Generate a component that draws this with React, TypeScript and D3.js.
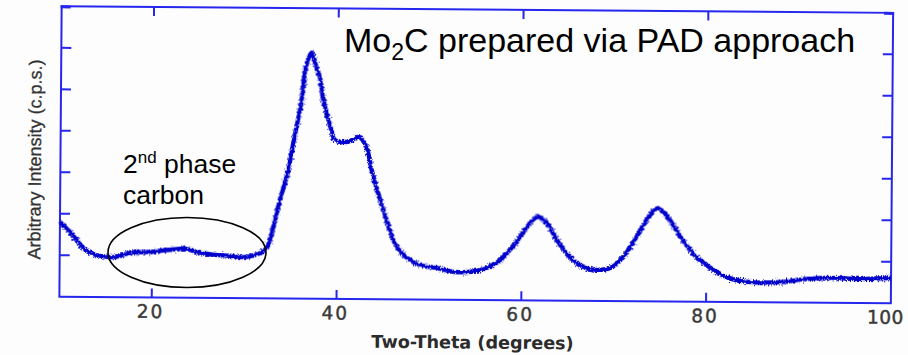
import React from 'react';
import * as d3 from 'd3';

// XRD scan of Mo2C (PAD route): 2θ in degrees vs. intensity (c.p.s.)
const twoTheta = [
  10.0, 11.1, 12.8, 14.4, 16.0, 17.6, 19.8, 21.9, 23.6, 25.2, 26.8, 28.4, 30.0, 31.7,
  32.4, 33.1, 33.8, 34.6, 35.2, 36.0, 36.5, 37.1, 37.6, 38.0, 38.4, 38.8, 39.2, 39.7,
  41.1, 42.3, 43.0, 43.3, 43.6, 43.9, 44.3, 45.0, 45.7, 46.5, 47.6, 49.0, 50.8, 53.0,
  55.5, 57.3, 58.7, 59.8, 60.9, 61.7, 62.7, 63.8, 65.2, 66.6, 68.1, 69.8, 71.3, 72.4,
  73.5, 74.7, 76.0, 77.4, 78.9, 80.3, 82.2, 84.3, 86.1, 88.2, 90.8, 93.6, 96.5, 100.0,
];
const intensity = [
  180, 156, 113, 99, 97, 107, 110, 115, 118, 108, 104, 102, 99, 109,
  122, 172, 238, 303, 376, 470, 559, 593, 559, 535, 480, 444, 415, 383,
  379, 391, 372, 353, 319, 295, 264, 216, 167, 126, 100, 83, 77, 67,
  72, 90, 121, 153, 187, 202, 187, 146, 105, 82, 75, 82, 116, 155,
  196, 225, 197, 149, 108, 84, 60, 49, 47, 49, 57, 60, 58, 61,
];
const xTickValues = [20, 40, 60, 80, 100];
const xInnerTicks = [20, 40, 60, 80];
const yTickValues = [100, 200, 300, 400, 500, 600];

const xTitle = 'Two-Theta (degrees)';
const yTitle = 'Arbitrary Intensity (c.p.s.)';

const FRAME = '#2626ee';
const TRACE = '#0303cc';

export default function App() {
  const width = 908;
  const height = 355;

  const x = d3.scaleLinear().domain([10, 100]).range([60.5, 892]);
  const y = d3.scaleLinear().domain([0, 700]).range([300, 9.6]);

  const [x0, x1] = x.range();
  const [yb, yt] = y.range();

  const path = d3
    .line<number>()
    .x((_, i) => x(twoTheta[i]))
    .y((d) => y(d))
    .curve(d3.curveCatmullRom.alpha(0.5))(intensity) as string;

  const tickLen = 10;
  const lastTick = xTickValues[xTickValues.length - 1];

  return (
    <svg
      width={width}
      height={height}
      viewBox={`0 0 ${width} ${height}`}
      style={{ position: 'absolute', left: 0, top: 0, background: '#fdfdfd' }}
    >
      <defs>
        <filter id="grain" filterUnits="userSpaceOnUse" x={0} y={0} width={width} height={height}>
          <feTurbulence type="fractalNoise" baseFrequency="1.0 0.4" numOctaves={2} seed={7} result="noise" />
          <feDisplacementMap in="SourceGraphic" in2="noise" scale={7} xChannelSelector="R" yChannelSelector="G" />
        </filter>
      </defs>

      {/* instrument plot, slightly tilted as scanned */}
      <g transform="rotate(0.45 476 155)">
        {/* frame */}
        <rect x={x0} y={yt} width={x1 - x0} height={yb - yt} fill="none" stroke={FRAME} strokeWidth={2} />

        {/* bottom and top ticks */}
        {xInnerTicks.map((t) => (
          <g key={`xt${t}`}>
            <line x1={x(t)} x2={x(t)} y1={yb} y2={yb - 9} stroke={FRAME} strokeWidth={2} />
            <line x1={x(t)} x2={x(t)} y1={yt} y2={yt + 9} stroke={FRAME} strokeWidth={2} />
          </g>
        ))}

        {/* left and right ticks */}
        {yTickValues.map((t) => (
          <g key={`yt${t}`}>
            <line x1={x0} x2={x0 + tickLen} y1={y(t)} y2={y(t)} stroke={FRAME} strokeWidth={2} />
            <line x1={x1} x2={x1 - tickLen} y1={y(t)} y2={y(t)} stroke={FRAME} strokeWidth={2} />
          </g>
        ))}
        <rect x={x0 - 1} y={yt - 1} width={tickLen} height={3} fill={FRAME} />
        <rect x={x1 - tickLen + 1} y={yt - 1} width={tickLen} height={3} fill={FRAME} />

        {/* tick labels */}
        {xTickValues.map((t) => (
          <text
            key={`xl${t}`}
            x={t === lastTick ? 905 : x(t) - 1}
            y={yb + 20.5}
            textAnchor={t === lastTick ? 'end' : 'middle'}
            fontFamily="'DejaVu Sans', Verdana, sans-serif"
            fontSize={18.5}
            letterSpacing={t === lastTick ? 0.5 : 2}
            fill="#3a3a3a"
            stroke="#3a3a3a"
            strokeWidth={0.45}
          >
            {t}
          </text>
        ))}

        {/* axis titles */}
        <text
          x={474}
          y={348.5}
          textAnchor="middle"
          fontFamily="'DejaVu Sans', Verdana, sans-serif"
          fontWeight="bold"
          fontSize={17.6}
          fill="#2b2b2b"
        >
          {xTitle}
        </text>
        <text
          transform="translate(41,163) rotate(-90)"
          textAnchor="middle"
          fontFamily="'Liberation Sans', Arial, sans-serif"
          fontSize={18}
          fill="#333"
          stroke="#333"
          strokeWidth={0.3}
        >
          {yTitle}
        </text>

        {/* diffraction trace */}
        <path d={path} fill="none" stroke={TRACE} strokeWidth={4.4} strokeLinejoin="round" filter="url(#grain)" />
      </g>

      {/* annotations */}
      <text x={344} y={52} fontFamily="'Liberation Sans', Arial, sans-serif" fontSize={34} fill="#000">
        Mo<tspan fontSize={23} dy={8}>2</tspan>
        <tspan dy={-8}>C prepared via PAD approach</tspan>
      </text>

      <text x={123} y={173} fontFamily="'Liberation Sans', Arial, sans-serif" fontSize={26.5} fill="#000">
        2<tspan fontSize={17} dy={-10}>nd</tspan>
        <tspan dy={10}> phase</tspan>
      </text>
      <text x={123} y={204} fontFamily="'Liberation Sans', Arial, sans-serif" fontSize={26.5} fill="#000">
        carbon
      </text>

      <ellipse cx={187} cy={252.5} rx={79} ry={35} fill="none" stroke="#000" strokeWidth={1.6} />
    </svg>
  );
}
